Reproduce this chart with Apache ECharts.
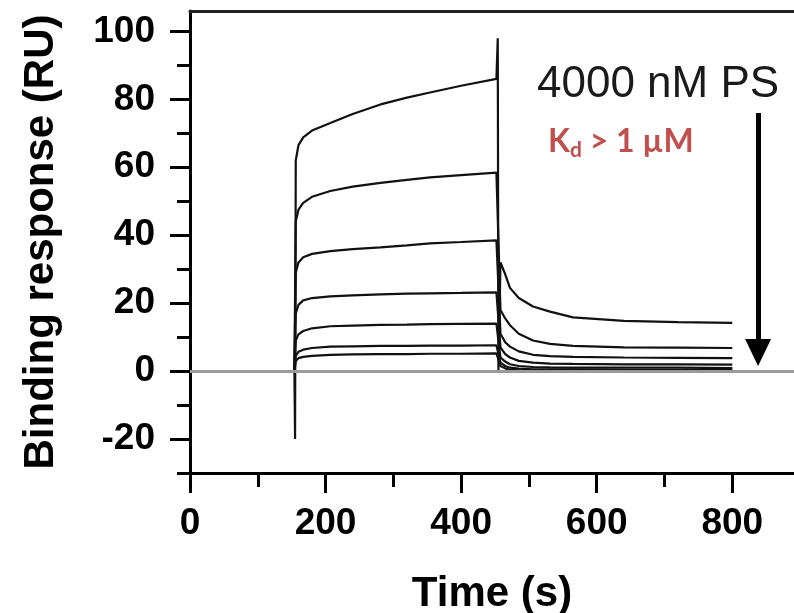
<!DOCTYPE html>
<html>
<head>
<meta charset="utf-8">
<title>PS binding sensorgram</title>
<script src="https://cdn.jsdelivr.net/npm/echarts@6/dist/echarts.min.js"></script>
<style>
  html, body { margin: 0; padding: 0; background: #fff; }
  #chart { width: 794px; height: 613px; }
</style>
</head>
<body>
<div id="chart"></div>
<script>
// Sampling times (s) of the association phase and of the dissociation phase
const assocT = [130, 154, 156, 160, 167, 180, 207, 240, 281, 320, 354, 400, 452];
const dissT  = [458, 465, 472, 485, 506, 531, 565, 640, 720, 800];

// Response (RU) of each PS concentration, highest first, during association
const assoc1 = [0, 0, 62, 66.5, 68.8, 70.8, 73, 75.7, 78.5, 80.5, 82, 84, 86];
const assoc2 = [0, 0, 44, 47.5, 49.5, 51.3, 53, 54.3, 55.4, 56.3, 57, 57.7, 58.4];
const assoc3 = [0, 0, 29, 32, 33.5, 34.5, 35.3, 35.9, 36.4, 37, 37.6, 38, 38.5];
const assoc4 = [0, 0, 17, 19.5, 20.8, 21.5, 22, 22.3, 22.6, 22.8, 22.9, 23, 23.2];
const assoc5 = [0, 0, 9, 10.8, 11.8, 12.6, 13.2, 13.4, 13.6, 13.7, 13.8, 13.9, 14];
const assoc6 = [0, 0, 4.5, 5.7, 6.3, 6.8, 7.2, 7.3, 7.4, 7.4, 7.5, 7.5, 7.6];
const assoc7 = [0, 0, 3, 3.8, 4.2, 4.5, 4.8, 4.9, 5, 5, 5.1, 5.1, 5.2];

// ... and during dissociation
const diss1 = [32, 28.5, 24.5, 21.5, 19, 17.5, 15.8, 14.8, 14.4, 14.2];
const diss2 = [18, 15.5, 13.5, 11, 9, 8, 7.4, 7, 6.9, 6.8];
const diss3 = [11, 8.5, 7.2, 5.8, 4.8, 4.4, 4.2, 4, 3.9, 3.8];
const diss4 = [7, 5, 4, 3, 2.5, 2.2, 2.1, 2, 2, 1.9];
const diss5 = [4, 2.8, 2, 1.5, 1.2, 1.1, 1, 1, 1, 0.9];
const diss6 = [2.5, 1.5, 1, 0.7, 0.5, 0.5, 0.5, 0.4, 0.4, 0.4];
const diss7 = [1.5, 0.8, 0.4, 0.2, 0.1, 0.1, 0.1, 0.1, 0.1, 0.1];

// Injection artefacts on the top trace: [time, RU]
const injectSpike = [155, -20];
const washSpike = [[454, 98], [455, 0]];

// Axis ticks
const xMajor = [0, 200, 400, 600, 800];
const xMinor = [100, 300, 500, 700];
const yMajor = [-20, 0, 20, 40, 60, 80, 100];
const yMinor = [-30, -10, 10, 30, 50, 70, 90];

// Arrow pointing down along the stack of curves: [time, RU] of its ends
const arrowTop = [838, 76];
const arrowEnd = [838, 5.5];

const assocSets = [assoc1, assoc2, assoc3, assoc4, assoc5, assoc6, assoc7];
const dissSets  = [diss1, diss2, diss3, diss4, diss5, diss6, diss7];

function buildTrace(i) {
  const pts = assocT.map((t, k) => [t, assocSets[i][k]]);
  const tail = dissT.map((t, k) => [t, dissSets[i][k]]);
  if (i === 0) {
    // top trace carries the injection spikes
    pts.splice(2, 0, injectSpike);
    return pts.concat(washSpike, tail);
  }
  return pts.concat(tail);
}

const FONT = '"Liberation Sans", Arial, Helvetica, sans-serif';
const X_MAX = 891, Y_MIN = -30, Y_MAX = 106;

const series = assocSets.map((_, i) => ({
  name: 'trace ' + (i + 1),
  type: 'line',
  data: buildTrace(i),
  showSymbol: false,
  symbol: 'none',
  smooth: false,
  lineStyle: { color: '#111', width: 2.2 },
  z: 3,
  animation: false
}));

// zero reference line and the arrow
series.push({
  name: 'reference',
  type: 'line',
  data: [],
  markLine: {
    silent: true,
    animation: false,
    label: { show: false },
    data: [
      [{ coord: [0, 0], symbol: 'none', lineStyle: { color: '#9a9a9a', width: 3, type: 'solid' } },
       { coord: [X_MAX, 0], symbol: 'none' }],
      [{ coord: arrowTop, symbol: 'none', lineStyle: { color: '#000', width: 5, type: 'solid' } },
       { coord: arrowEnd, symbol: 'triangle', symbolSize: [26, 27] }]
    ]
  },
  z: 2
});

const chart = echarts.init(document.getElementById('chart'), null, { renderer: 'canvas' });

chart.setOption({
  backgroundColor: '#fff',
  animation: false,
  grid: { left: 190, right: 0, top: 11, bottom: 140, containLabel: false, outerBoundsMode: 'none' },
  xAxis: [
    {
      type: 'value', position: 'bottom', min: 0, max: X_MAX,
      name: 'Time (s)', nameLocation: 'middle', nameGap: 100,
      nameTextStyle: { fontFamily: FONT, fontWeight: 'bold', fontSize: 42, color: '#000' },
      axisLine: { show: true, onZero: false, lineStyle: { color: '#000', width: 3 } },
      axisTick: { show: true, length: 20, customValues: xMajor, lineStyle: { color: '#000', width: 3 } },
      axisLabel: { customValues: xMajor, margin: 32, fontFamily: FONT, fontWeight: 'bold', fontSize: 37, color: '#000' },
      splitLine: { show: false }
    },
    {
      type: 'value', position: 'bottom', min: 0, max: X_MAX,
      axisLine: { show: false, onZero: false },
      axisTick: { show: true, length: 14, customValues: xMinor, lineStyle: { color: '#000', width: 3 } },
      axisLabel: { show: false },
      splitLine: { show: false }
    },
    {
      type: 'value', position: 'top', min: 0, max: X_MAX,
      axisLine: { show: true, onZero: false, lineStyle: { color: '#222', width: 3 } },
      axisTick: { show: false },
      axisLabel: { show: false },
      splitLine: { show: false }
    }
  ],
  yAxis: [
    {
      type: 'value', position: 'left', min: Y_MIN, max: Y_MAX,
      name: 'Binding response (RU)', nameLocation: 'middle', nameGap: 128,
      nameTextStyle: { fontFamily: FONT, fontWeight: 'bold', fontSize: 42, color: '#000' },
      axisLine: { show: true, onZero: false, lineStyle: { color: '#000', width: 3 } },
      axisTick: { show: true, length: 20, customValues: yMajor, lineStyle: { color: '#000', width: 3 } },
      axisLabel: { customValues: yMajor, margin: 35, fontFamily: FONT, fontWeight: 'bold', fontSize: 37, color: '#000' },
      splitLine: { show: false }
    },
    {
      type: 'value', position: 'left', min: Y_MIN, max: Y_MAX,
      axisLine: { show: false, onZero: false },
      axisTick: { show: true, length: 13, customValues: yMinor, lineStyle: { color: '#000', width: 3 } },
      axisLabel: { show: false },
      splitLine: { show: false }
    }
  ],
  graphic: [
    {
      type: 'text', left: 537, top: 63, z: 10,
      style: { text: '4000 nM PS', font: '44px ' + FONT, fill: '#1a1a1a' }
    },
    {
      type: 'text', left: 548, top: 126, z: 10,
      style: {
        text: 'K{sub|d} > 1 µM',
        font: 'bold 32px Lato, "Open Sans", sans-serif',
        fill: '#c0504d',
        rich: {
          sub: { fontFamily: 'Lato', fontWeight: 'bold', fontSize: 21, fill: '#c0504d', padding: [16, 0, 0, 0] }
        }
      }
    }
  ],
  series: series
});
</script>
</body>
</html>
